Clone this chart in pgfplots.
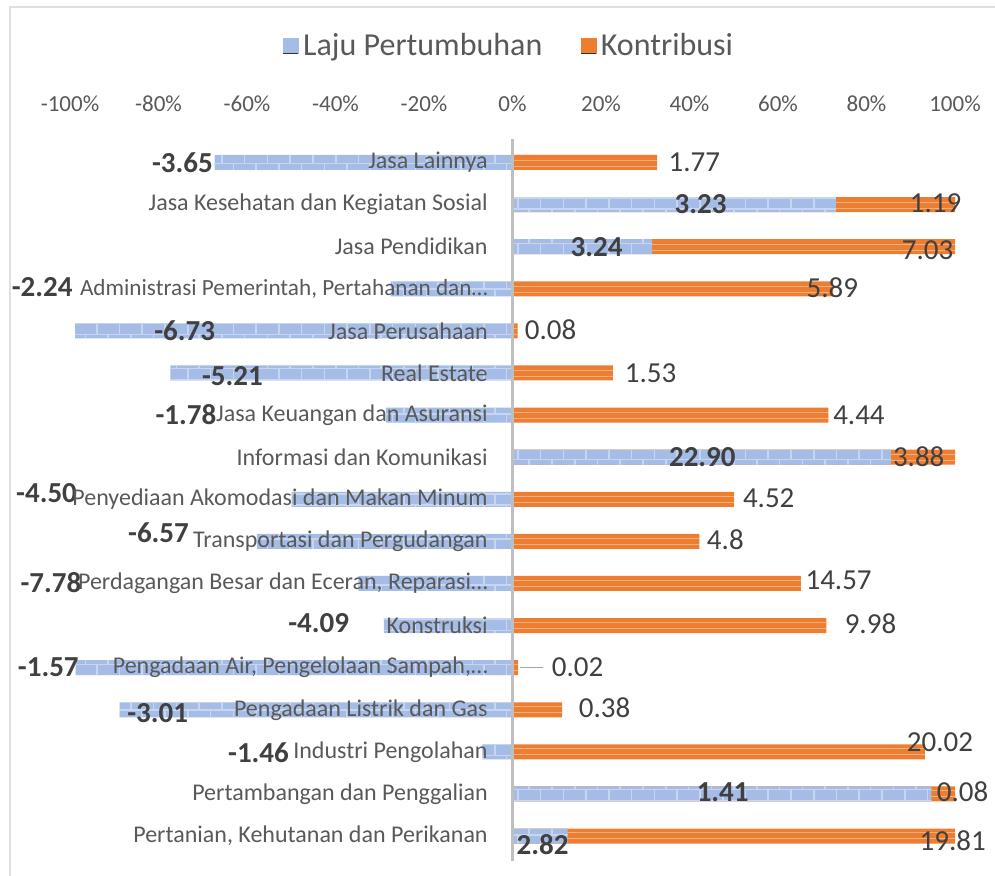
\documentclass[border=0pt]{standalone}
\usepackage{fontspec}
\setmainfont{Carlito}
\usepackage{pgfplots}
\pgfplotsset{compat=1.18}
\usepackage{pgfplotstable}
\usetikzlibrary{patterns}
\definecolor{txtgray}{HTML}{595959}
\definecolor{lblgray}{HTML}{404040}
\definecolor{blueF}{HTML}{A4BCE6}
\definecolor{blueP}{HTML}{C6D5F0}
\definecolor{orangeF}{HTML}{ED7D31}
\definecolor{orangeP}{HTML}{F5AE80}
\definecolor{zerogray}{HTML}{BFBFBF}

% normalized shares (%) of |growth| and contribution per sector
\pgfplotstableread{
i b o
0 12.46 87.54
1 94.63 5.37
2 -6.80 93.20
3 -88.79 11.21
4 -98.74 1.26
5 -29.07 70.93
6 -34.81 65.19
7 -57.78 42.22
8 -49.89 50.11
9 85.51 14.49
10 -28.62 71.38
11 -77.30 22.70
12 -98.83 1.17
13 -27.55 72.45
14 31.55 68.45
15 73.08 26.92
16 -67.34 32.66
}\datatable

\begin{document}
\begin{tikzpicture}
\useasboundingbox (0pt,0pt) rectangle (497.5pt,437.5pt);
\draw[color=gray!25, line width=0.6pt] (5pt,-2pt) -- (5pt,434pt) -- (500pt,434pt);
\begin{axis}[
  at={(35pt,6.85pt)}, anchor=south west,
  scale only axis, width=442.5pt, height=361pt,
  xmin=-100, xmax=100, ymin=-0.6, ymax=16.55,
  enlargelimits=false, clip=false, axis on top,
  axis x line*=top, axis y line*=left,
  axis line style={draw=none},
  major tick length=0pt,
  xtick={-100,-80,...,100},
  xticklabels={-100\%,-80\%,-60\%,-40\%,-20\%,0\%,20\%,40\%,60\%,80\%,100\%},
  xticklabel style={anchor=base, yshift=13.65pt, font=\fontsize{11.5}{13}\selectfont, text=txtgray},
  ytick={0,...,16},
  yticklabels={{Pertanian, Kehutanan dan Perikanan},{Pertambangan dan Penggalian},{Industri Pengolahan},{Pengadaan Listrik dan Gas},{Pengadaan Air, Pengelolaan Sampah,…},{Konstruksi},{Perdagangan Besar dan Eceran, Reparasi…},{Transportasi dan Pergudangan},{Penyediaan Akomodasi dan Makan Minum},{Informasi dan Komunikasi},{Jasa Keuangan dan Asuransi},{Real Estate},{Jasa Perusahaan},{\fontsize{11.6}{14}\selectfont Administrasi Pemerintah, Pertahanan dan…},{Jasa Pendidikan},{Jasa Kesehatan dan Kegiatan Sosial},{Jasa Lainnya}},
  yticklabel style={anchor=east, inner sep=0pt, xshift=209pt, font=\fontsize{12}{14}\selectfont, text=txtgray},
  legend columns=2,
  legend style={at={(0.497,1.130)}, anchor=center, draw=none, fill=none,
    font=\fontsize{16}{18}\selectfont, text=txtgray,
    /tikz/every even column/.append style={column sep=17pt},
    nodes={inner xsep=2pt}},
]
\addlegendimage{legend image code/.code={\fill[blueF] (0pt,-4pt) rectangle (7.5pt,3.5pt); \draw[black!80,line width=0.8pt] (0pt,-4pt) -- (7.5pt,-4pt);}}
\addlegendentry{Laju Pertumbuhan}
\addlegendimage{legend image code/.code={\fill[orangeF] (0pt,-4pt) rectangle (7.5pt,3.5pt); \draw[black!80,line width=0.8pt] (0pt,-4pt) -- (7.5pt,-4pt);}}
\addlegendentry{Kontribusi}

% Kontribusi: starts at the end of a positive growth segment
\addplot[xbar, bar width=7.5pt, bar shift=0pt, draw=none, fill=orangeF,
  postaction={pattern=horizontal lines, pattern color=orangeP}, forget plot]
  table[y=i, x expr={\thisrow{o}+max(\thisrow{b},0)}] {\datatable};
% Laju Pertumbuhan
\addplot[xbar, bar width=7.5pt, bar shift=0pt, draw=none, fill=blueF,
  postaction={pattern=bricks, pattern color=blueP}, forget plot]
  table[y=i, x=b] {\datatable};

\draw[zerogray, line width=1.5pt] (axis cs:0,-0.6) -- (axis cs:0,16.55);
\draw[color=black!35, line width=0.6pt] (axis cs:1.8,4) -- (axis cs:6.8,4);

% growth labels
\begin{scope}[every node/.style={font=\fontsize{14.5}{16}\selectfont\bfseries, text=lblgray, inner sep=0pt, anchor=center}]
\node at (axis cs:-74.6,16.0) {-3.65};
\node at (axis cs:42.5,15.0) {3.23};
\node at (axis cs:19.0,14.0) {3.24};
\node at (axis cs:-106.3,13.04) {-2.24};
\node at (axis cs:-74.1,12.0) {-6.73};
\node at (axis cs:-63.3,10.93) {-5.21};
\node at (axis cs:-73.8,10.0) {-1.78};
\node at (axis cs:42.9,9.0) {22.90};
\node at (axis cs:-105.3,8.15) {-4.50};
\node at (axis cs:-80.0,7.2) {-6.57};
\node at (axis cs:-104.3,6.01) {-7.78};
\node at (axis cs:-43.8,5.06) {-4.09};
\node at (axis cs:-104.9,4.01) {-1.57};
\node at (axis cs:-80.2,2.92) {-3.01};
\node at (axis cs:-57.4,1.97) {-1.46};
\node at (axis cs:47.5,1.05) {1.41};
\node at (axis cs:6.8,-0.21) {2.82};
\end{scope}
% contribution labels
\begin{scope}[every node/.style={font=\fontsize{14.5}{16}\selectfont, text=lblgray, inner sep=0pt, anchor=center}]
\node at (axis cs:41.1,16.0) {1.77};
\node at (axis cs:95.6,15.04) {1.19};
\node at (axis cs:93.8,13.92) {7.03};
\node at (axis cs:72.3,13.02) {5.89};
\node at (axis cs:8.6,12.02) {0.08};
\node at (axis cs:31.2,11.0) {1.53};
\node at (axis cs:78.3,10.0) {4.44};
\node at (axis cs:91.8,9.0) {3.88};
\node at (axis cs:57.9,8.03) {4.52};
\node at (axis cs:48.1,7.03) {4.8};
\node at (axis cs:73.7,6.08) {14.57};
\node at (axis cs:80.9,5.04) {9.98};
\node at (axis cs:14.7,4.01) {0.02};
\node at (axis cs:20.8,3.04) {0.38};
\node at (axis cs:96.6,2.23) {20.02};
\node at (axis cs:101.7,1.05) {0.08};
\node at (axis cs:99.5,-0.1) {19.81};
\end{scope}
\end{axis}
\end{tikzpicture}
\end{document}
